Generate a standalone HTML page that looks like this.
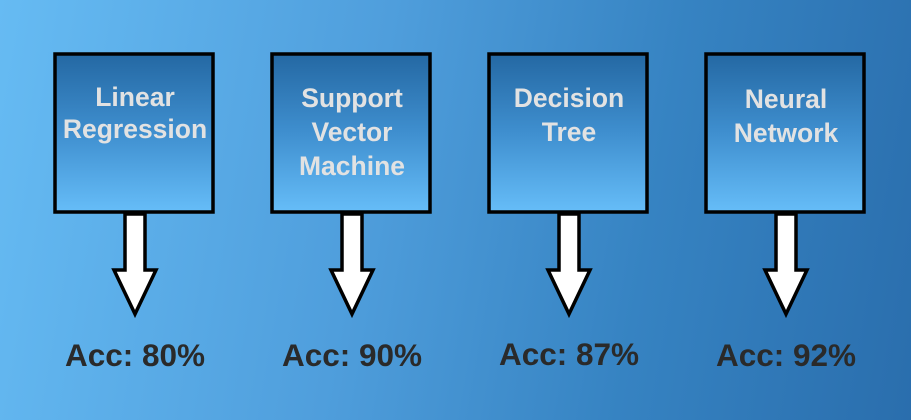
<!DOCTYPE html>
<html><head><style>
html,body{margin:0;padding:0}
body{width:911px;height:420px;overflow:hidden;background:linear-gradient(100deg,#66bbf3 0%,#4f9edc 40%,#3683c2 70%,#2a6ead 100%)}
</style></head><body>
<svg width="911" height="420" xmlns="http://www.w3.org/2000/svg" style="position:absolute;left:0;top:0">
<defs>
<linearGradient id="g" x1="0" y1="0" x2="0" y2="1">
<stop offset="0" stop-color="#2468a3"/>
<stop offset="0.5" stop-color="#3f8fcf"/>
<stop offset="1" stop-color="#66bdf8"/>
</linearGradient>
</defs>
<g stroke="#000" stroke-width="3.5">
<rect x="55" y="54" width="158" height="158" fill="url(#g)"/>
<rect x="272" y="54" width="158" height="158" fill="url(#g)"/>
<rect x="489" y="54" width="158" height="158" fill="url(#g)"/>
<rect x="706" y="54" width="158" height="158" fill="url(#g)"/>
</g>
<g fill="#fff" stroke="#000" stroke-width="3.5" stroke-linejoin="miter">
<polygon points="125,214 145,214 145,270 156,270 135,314 114,270 125,270"/>
<polygon points="342,214 362,214 362,270 373,270 352,314 331,270 342,270"/>
<polygon points="559,214 579,214 579,270 590,270 569,314 548,270 559,270"/>
<polygon points="776,214 796,214 796,270 807,270 786,314 765,270 776,270"/>
</g>
<g font-family="Liberation Sans, sans-serif" font-weight="bold" text-anchor="middle" fill="#e2e2e2" font-size="26.5">
<text x="135" y="106">Linear</text><text x="135" y="138">Regression</text>
<text x="352" y="107">Support</text><text x="352" y="141">Vector</text><text x="352" y="175">Machine</text>
<text x="569" y="107">Decision</text><text x="569" y="141">Tree</text>
<text x="786" y="108">Neural</text><text x="786" y="142">Network</text>
</g>
<g font-family="Liberation Sans, sans-serif" font-weight="bold" text-anchor="middle" fill="#2a2a2a" font-size="31.5">
<text x="135" y="366">Acc: 80%</text>
<text x="352" y="366">Acc: 90%</text>
<text x="569" y="365">Acc: 87%</text>
<text x="786" y="366">Acc: 92%</text>
</g>
</svg>
</body></html>
